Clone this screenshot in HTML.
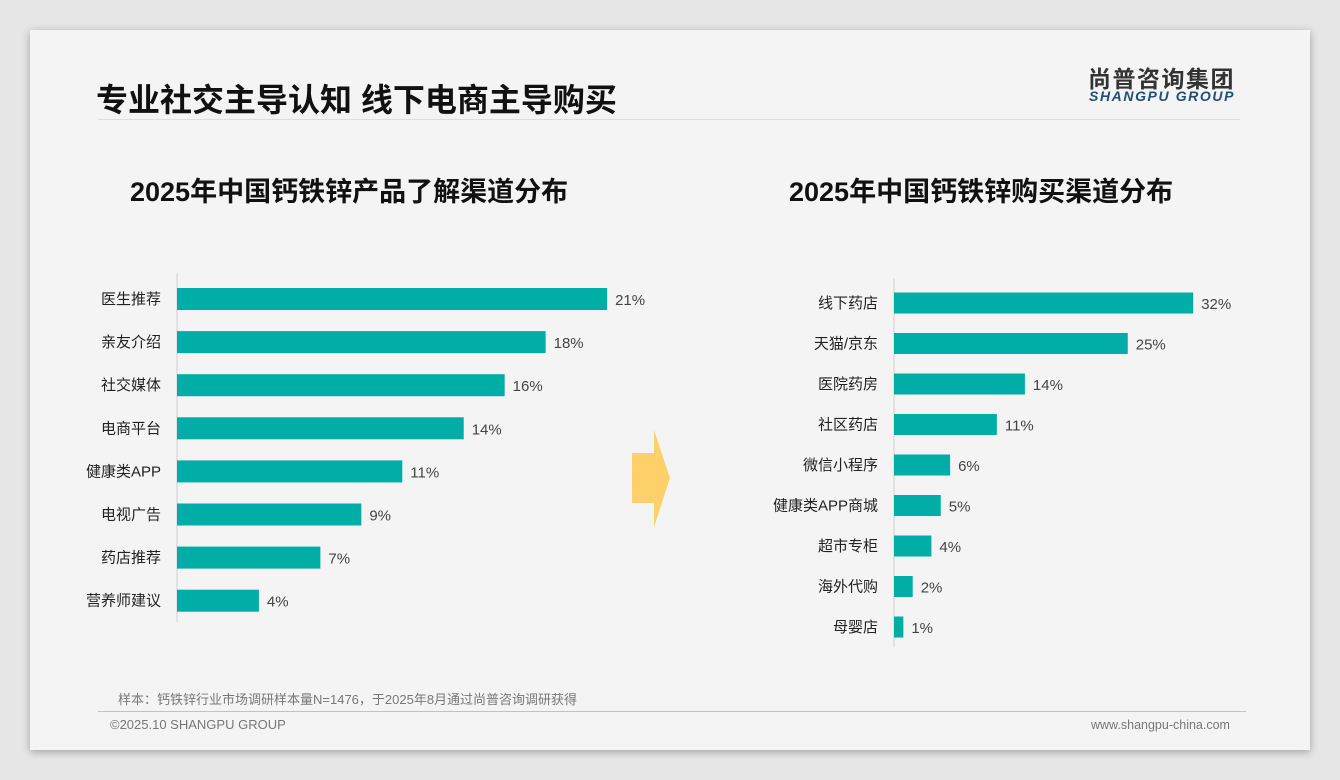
<!DOCTYPE html>
<html><head><meta charset="utf-8">
<style>
body{margin:0;width:1340px;height:780px;background:#e6e6e6;font-family:"Liberation Sans","Noto Sans CJK SC",sans-serif;overflow:hidden;position:relative}
#slide{position:absolute;left:30px;top:30px;width:1280px;height:720px;background:#f4f4f4;box-shadow:0 2px 8px rgba(0,0,0,.3)}
.abs{position:absolute;white-space:nowrap}
</style></head><body>
<div id="slide"></div>
<div class="abs" style="left:96px;top:75px;font-size:32px;font-weight:bold;color:#111">专业社交主导认知 线下电商主导购买</div>
<div class="abs" style="left:1088px;top:60px;font-size:23px;font-weight:bold;color:#333;letter-spacing:1.5px">尚普咨询集团</div>
<div class="abs" style="left:1089px;top:88px;font-size:14px;font-weight:bold;font-style:italic;color:#1f4e79;letter-spacing:1.6px">SHANGPU GROUP</div>
<div class="abs" style="left:98px;top:119px;width:1142px;height:1px;background:#ddd"></div>
<div class="abs" style="left:130px;top:170px;font-size:27px;font-weight:bold;color:#111">2025年中国钙铁锌产品了解渠道分布</div>
<div class="abs" style="left:789px;top:170px;font-size:27px;font-weight:bold;color:#111">2025年中国钙铁锌购买渠道分布</div>
<svg class="abs" style="left:0;top:0" width="1340" height="780">
<polygon points="632,453 654,453 654,430 670,478 654,527 654,503 632,503" fill="#fdd06a"/>
<g id="L"></g><g id="R"></g>
</svg>
<div class="abs" style="left:118px;top:689px;font-size:13px;color:#777">样本：钙铁锌行业市场调研样本量N=1476，于2025年8月通过尚普咨询调研获得</div>
<div class="abs" style="left:98px;top:711px;width:1148px;height:1px;background:#b8c4d0"></div>
<div class="abs" style="left:110px;top:717px;font-size:13px;color:#777">©2025.10 SHANGPU GROUP</div>
<div class="abs" style="left:1091px;top:718px;font-size:12.5px;color:#777">www.shangpu-china.com</div>
<script>
const leftCats=["医生推荐","亲友介绍","社交媒体","电商平台","健康类APP","电视广告","药店推荐","营养师建议"];
const leftVals=[21,18,16,14,11,9,7,4];
const rightCats=["线下药店","天猫/京东","医院药房","社区药店","微信小程序","健康类APP商城","超市专柜","海外代购","母婴店"];
const rightVals=[32,25,14,11,6,5,4,2,1];
const NS="http://www.w3.org/2000/svg";
function mk(t,a,p){const e=document.createElementNS(NS,t);for(const k in a)e.setAttribute(k,a[k]);p.appendChild(e);return e;}
function draw(g,cats,vals,x0,y0,step,scale,bh){
  const yPos=i=>y0+i*step, xLen=v=>v*scale;
  const ax=mk('line',{x1:x0,x2:x0,y1:yPos(0)-step/2-4,y2:yPos(cats.length-1)+step/2,stroke:'#d0d0d0'},g);
  
  
  cats.forEach((c,i)=>{
    const y=yPos(i);
    const r=mk('rect',{x:x0,y:y-bh/2,width:xLen(vals[i]),height:bh,fill:'#00ada7'},g);
    
    
    const l=mk('text',{x:x0-16,y:y+5,'text-anchor':'end','font-size':15,fill:'#222'},g);
    l.textContent=c;
    
    
    const v=mk('text',{x:x0+xLen(vals[i])+8,y:y+6,'font-size':15,fill:'#444'},g);
    v.textContent=vals[i]+'%';
    
    
  });
}
draw(document.getElementById('L'),leftCats,leftVals,177,299,43.1,20.48,22);
draw(document.getElementById('R'),rightCats,rightVals,894,303,40.5,9.35,21);
</script>
</body></html>
